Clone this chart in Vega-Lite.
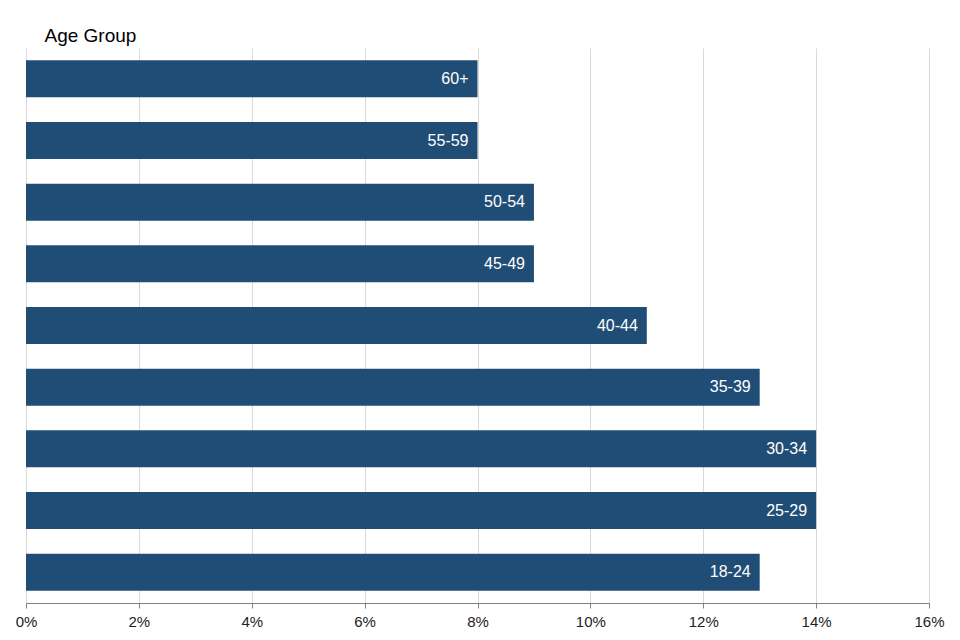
{
  "$schema": "https://vega.github.io/schema/vega-lite/v6.json",
  "width": 903,
  "height": 555,
  "autosize": {"type": "none"},
  "padding": {"left": 26, "top": 48, "right": 31, "bottom": 37},
  "background": "white",
  "config": {
    "font": "Liberation Sans",
    "view": {"stroke": null}
  },
  "data": {
    "values": [
      {"age": "60+", "share": 0.08},
      {"age": "55-59", "share": 0.08},
      {"age": "50-54", "share": 0.09},
      {"age": "45-49", "share": 0.09},
      {"age": "40-44", "share": 0.11},
      {"age": "35-39", "share": 0.13},
      {"age": "30-34", "share": 0.14},
      {"age": "25-29", "share": 0.14},
      {"age": "18-24", "share": 0.13}
    ]
  },
  "encoding": {
    "y": {
      "field": "age",
      "type": "nominal",
      "sort": null,
      "scale": {"paddingInner": 0.4, "paddingOuter": 0.2},
      "axis": {
        "title": "Age Group",
        "labels": false,
        "ticks": false,
        "domain": false,
        "titleAngle": 0,
        "titleAlign": "left",
        "titleBaseline": "middle",
        "titleX": 18,
        "titleY": -13,
        "titleFontSize": 19,
        "titleFontWeight": "normal",
        "titleColor": "#000000"
      }
    },
    "x": {
      "field": "share",
      "type": "quantitative",
      "scale": {"domain": [0, 0.16], "nice": false},
      "axis": {
        "title": null,
        "format": ".0%",
        "values": [0, 0.02, 0.04, 0.06, 0.08, 0.1, 0.12, 0.14, 0.16],
        "grid": true,
        "gridColor": "#d9d9d9",
        "domainColor": "#808080",
        "tickColor": "#808080",
        "tickSize": 5,
        "labelFontSize": 15,
        "labelColor": "#222222",
        "labelPadding": 6,
        "labelFlush": false
      }
    }
  },
  "layer": [
    {"mark": {"type": "bar", "color": "#204d75"}},
    {
      "mark": {"type": "text", "align": "right", "baseline": "middle", "dx": -9, "color": "white", "fontSize": 16},
      "encoding": {"text": {"field": "age"}}
    }
  ]
}
